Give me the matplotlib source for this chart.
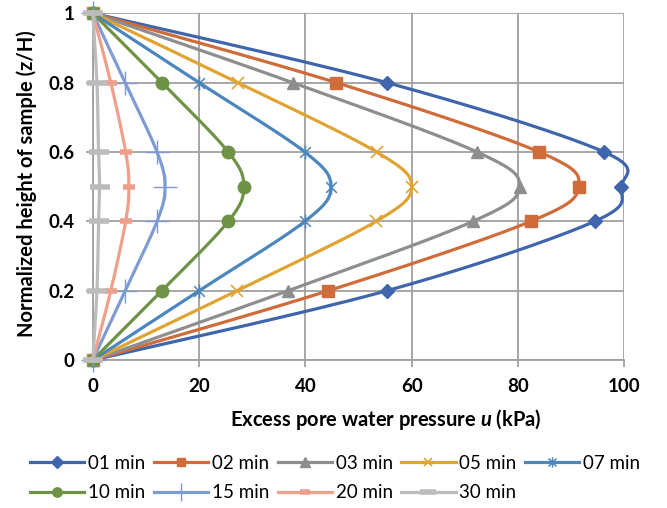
import numpy as np
import matplotlib
matplotlib.use("Agg")
import matplotlib.pyplot as plt
from matplotlib.path import Path

# Alturas normalizadas (z/H) e excesso de poropressão u (kPa) por tempo
alturas = [0, 0.2, 0.4, 0.5, 0.6, 0.8, 1]
tempos = ["01 min", "02 min", "03 min", "05 min", "07 min",
          "10 min", "15 min", "20 min", "30 min"]
u_01 = [0, 55.3, 94.4, 99.4, 96.2, 55.3, 0]
u_02 = [0, 44.3, 82.4, 91.4, 84.0, 45.8, 0]
u_03 = [0, 36.7, 71.5, 80.3, 72.3, 37.6, 0]
u_05 = [0, 27.1, 53.3, 60.0, 53.4, 27.3, 0]
u_07 = [0, 20.0, 39.9, 44.8, 39.9, 20.0, 0]
u_10 = [0, 13.0, 25.5, 28.4, 25.5, 13.0, 0]
u_15 = [0, 6.1, 12.1, 13.6, 12.1, 6.1, 0]
u_20 = [0, 3.4, 6.2, 6.8, 6.2, 3.4, 0]
u_30 = [0, 0.8, 1.1, 1.3, 1.1, 0.8, 0]
valores = [u_01, u_02, u_03, u_05, u_07, u_10, u_15, u_20, u_30]

cores = ["#3F66AC", "#D06B3A", "#8E8E8E", "#E0A433", "#4B86BD",
         "#6E9346", "#7F9CD2", "#EFA08C", "#BCBCBC"]

# marcador "asterisco" (x com traço vertical)
estrela = Path([(-1, -1), (1, 1), (-1, 1), (1, -1), (0, -1.3), (0, 1.3)],
               [Path.MOVETO, Path.LINETO, Path.MOVETO, Path.LINETO,
                Path.MOVETO, Path.LINETO])
marcadores = [
    dict(marker="D", ms=7.5),
    dict(marker="s", ms=8),
    dict(marker="^", ms=9),
    dict(marker="x", ms=8, mew=1.2),
    dict(marker=estrela, ms=10, mew=1.1),
    dict(marker="o", ms=9),
    dict(marker="+", ms=17, mew=1.0),
    dict(marker="_", ms=9, mew=4),
    dict(marker="_", ms=15, mew=4),
]

plt.rcParams["font.family"] = ["Lato", "DejaVu Sans"]
plt.rcParams["mathtext.fontset"] = "custom"
plt.rcParams["mathtext.it"] = "Lato:bold:italic"
plt.rcParams["mathtext.rm"] = "Lato:bold"


# Curva suavizada (Bezier entre os pontos, como a linha suavizada do Excel)
def suavizar(xs, ys, sx, sy, n=30):
    P = np.column_stack([np.asarray(xs) * sx, np.asarray(ys) * sy])
    curva = []
    for i in range(len(P) - 1):
        p0 = P[max(i - 1, 0)]
        p1 = P[i]
        p2 = P[i + 1]
        p3 = P[min(i + 2, len(P) - 1)]
        c1 = p1 + (p2 - p0) / 6
        c2 = p2 - (p3 - p1) / 6
        t = np.linspace(0, 1, n)[:, None]
        seg = ((1 - t) ** 3) * p1 + 3 * ((1 - t) ** 2) * t * c1 \
            + 3 * (1 - t) * t ** 2 * c2 + t ** 3 * p2
        curva.append(seg if i == 0 else seg[1:])
    curva = np.vstack(curva)
    return curva[:, 0] / sx, curva[:, 1] / sy


fig = plt.figure(figsize=(6.67, 5.08), dpi=100)
ax = fig.add_axes([0.139, 0.291, 0.797, 0.683])

largura_px = 0.797 * 667
altura_px = 0.683 * 508

handles = []
for i, (nome, u) in enumerate(zip(tempos, valores)):
    xs, ys = suavizar(u, alturas, largura_px / 100, altura_px)
    ax.plot(xs, ys, color=cores[i], lw=2.3, zorder=3 + i, clip_on=False)
    ax.plot(u, alturas, ls="none", color=cores[i], zorder=3 + i,
            clip_on=False, **marcadores[i])
    # entrada da legenda: linha + marcador
    h, = ax.plot([], [], color=cores[i], lw=2.3, label=nome, **marcadores[i])
    handles.append(h)

ax.set_xlim(0, 100)
ax.set_ylim(0, 1)
ax.set_xticks([0, 20, 40, 60, 80, 100])
ax.set_yticks([0, 0.2, 0.4, 0.6, 0.8, 1])
ax.set_yticklabels(["0", "0.2", "0.4", "0.6", "0.8", "1"])
ax.grid(True, color="#A0A0A0", lw=1.3)
ax.set_axisbelow(True)
for lado in ["top", "right"]:
    ax.spines[lado].set_visible(False)
for lado in ["left", "bottom"]:
    ax.spines[lado].set_color("#A0A0A0")
    ax.spines[lado].set_linewidth(1.3)
ax.tick_params(axis="both", length=5, width=1.3, color="#A0A0A0",
               labelsize=13.5, pad=8)
for rot in ax.get_xticklabels() + ax.get_yticklabels():
    rot.set_fontweight("bold")

fig.text(386 / 667, 1 - 420 / 508, "Excess pore water pressure $u$ (kPa)",
         ha="center", va="center", fontsize=14.5, fontweight="bold")
fig.text(27 / 667, 1 - 184 / 508, "Normalized height of sample (z/H)",
         ha="center", va="center", rotation=90, fontsize=14.5,
         fontweight="bold")

# legenda em duas linhas, preenchida linha a linha
ordem = [0, 5, 1, 6, 2, 7, 3, 8, 4]
fig.legend([handles[k] for k in ordem], [tempos[k] for k in ordem],
           loc="center", bbox_to_anchor=(335 / 667, 1 - 478 / 508),
           ncol=5, frameon=False, fontsize=13.5, handlelength=2.9,
           handletextpad=0.2, columnspacing=0.45, labelspacing=0.65,
           markerscale=0.75)

fig.savefig("out.png", dpi=100)
